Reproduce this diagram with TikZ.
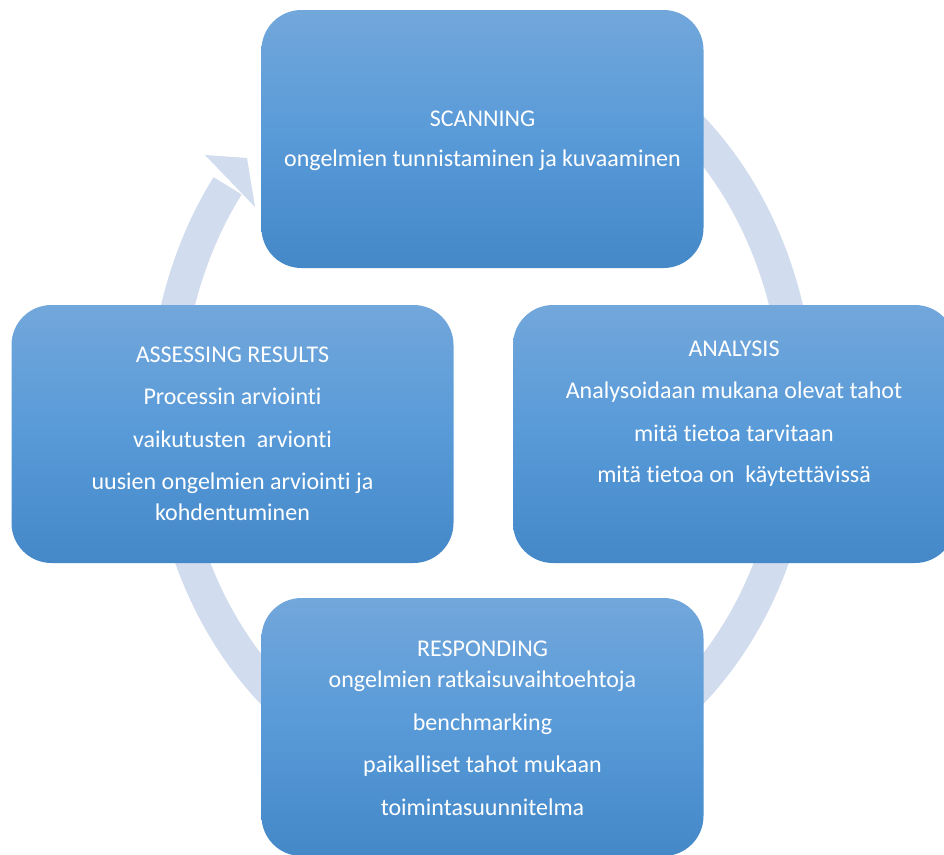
\documentclass[tikz,border=0pt]{standalone}
\usepackage{fontspec}
\setmainfont[Ligatures={NoCommon}]{Carlito}
\definecolor{ringblue}{RGB}{209,220,238}
\definecolor{boxtop}{RGB}{114,167,219}
\definecolor{boxmid}{RGB}{88,154,216}
\definecolor{boxbot}{RGB}{68,136,200}
\begin{document}
\begin{tikzpicture}[x=1pt,y=-1pt,
  phase/.style={rectangle, rounded corners=40pt, minimum width=442pt,
    minimum height=258pt, inner sep=0pt,
    top color=boxtop, bottom color=boxbot, middle color=boxmid},
  lbl/.style={anchor=base, inner sep=0pt, text=white,
    font=\fontsize{24}{29}\selectfont}]
\useasboundingbox (0,0) rectangle (944,854);
\clip (0,0) rectangle (944,854);
\fill[white] (0,0) rectangle (944,854);

% cycle ring running clockwise behind the four phases
\draw[ringblue, line width=33pt]
  plot[domain=-60:216.5, samples=200, smooth]
  ({482+316.5*cos(\x)},{410+377*sin(\x)});
\coordinate (hOut) at (205,155);
\coordinate (hTip) at (247,158);
\coordinate (hIn)  at (255,207);
\fill[ringblue] (hOut) -- (hTip) -- (hIn) -- cycle;

% phase boxes
\node[phase] (scan)   at (482.5,139)   {};
\node[phase] (anal)   at (734,434)     {};
\node[phase] (assess) at (232.5,434)   {};
\node[phase] (resp)   at (482.5,727)   {};

% scanning
\node[lbl] (s1) at (482.5,126.7) {SCANNING};
\node[lbl] (s2) at (482.5,166.7) {ongelmien tunnistaminen ja kuvaaminen};

% analysis
\node[lbl] (a1) at (734,356.7) {ANALYSIS};
\node[lbl] (a2) at (734,398.3) {Analysoidaan mukana olevat tahot};
\node[lbl] (a3) at (734,441.7) {mitä tietoa tarvitaan};
\node[lbl] (a4) at (734,482.7) {mitä tietoa on~~käytettävissä};

% assessing results
\node[lbl] (r1) at (232.5,362.7) {ASSESSING RESULTS};
\node[lbl] (r2) at (232.5,404.3) {Processin arviointi};
\node[lbl] (r3) at (232.5,447.7) {vaikutusten~~arvionti};
\node[lbl] (r4) at (232.5,489.3) {uusien ongelmien arviointi ja};
\node[lbl] (r5) at (232.5,520)   {kohdentuminen};

% responding
\node[lbl] (p1) at (482.5,656.7) {RESPONDING};
\node[lbl] (p2) at (482.5,687.3) {ongelmien ratkaisuvaihtoehtoja};
\node[lbl] (p3) at (482.5,730)   {benchmarking};
\node[lbl] (p4) at (482.5,772.7) {paikalliset tahot mukaan};
\node[lbl] (p5) at (482.5,815)   {toimintasuunnitelma};
\end{tikzpicture}
\end{document}
